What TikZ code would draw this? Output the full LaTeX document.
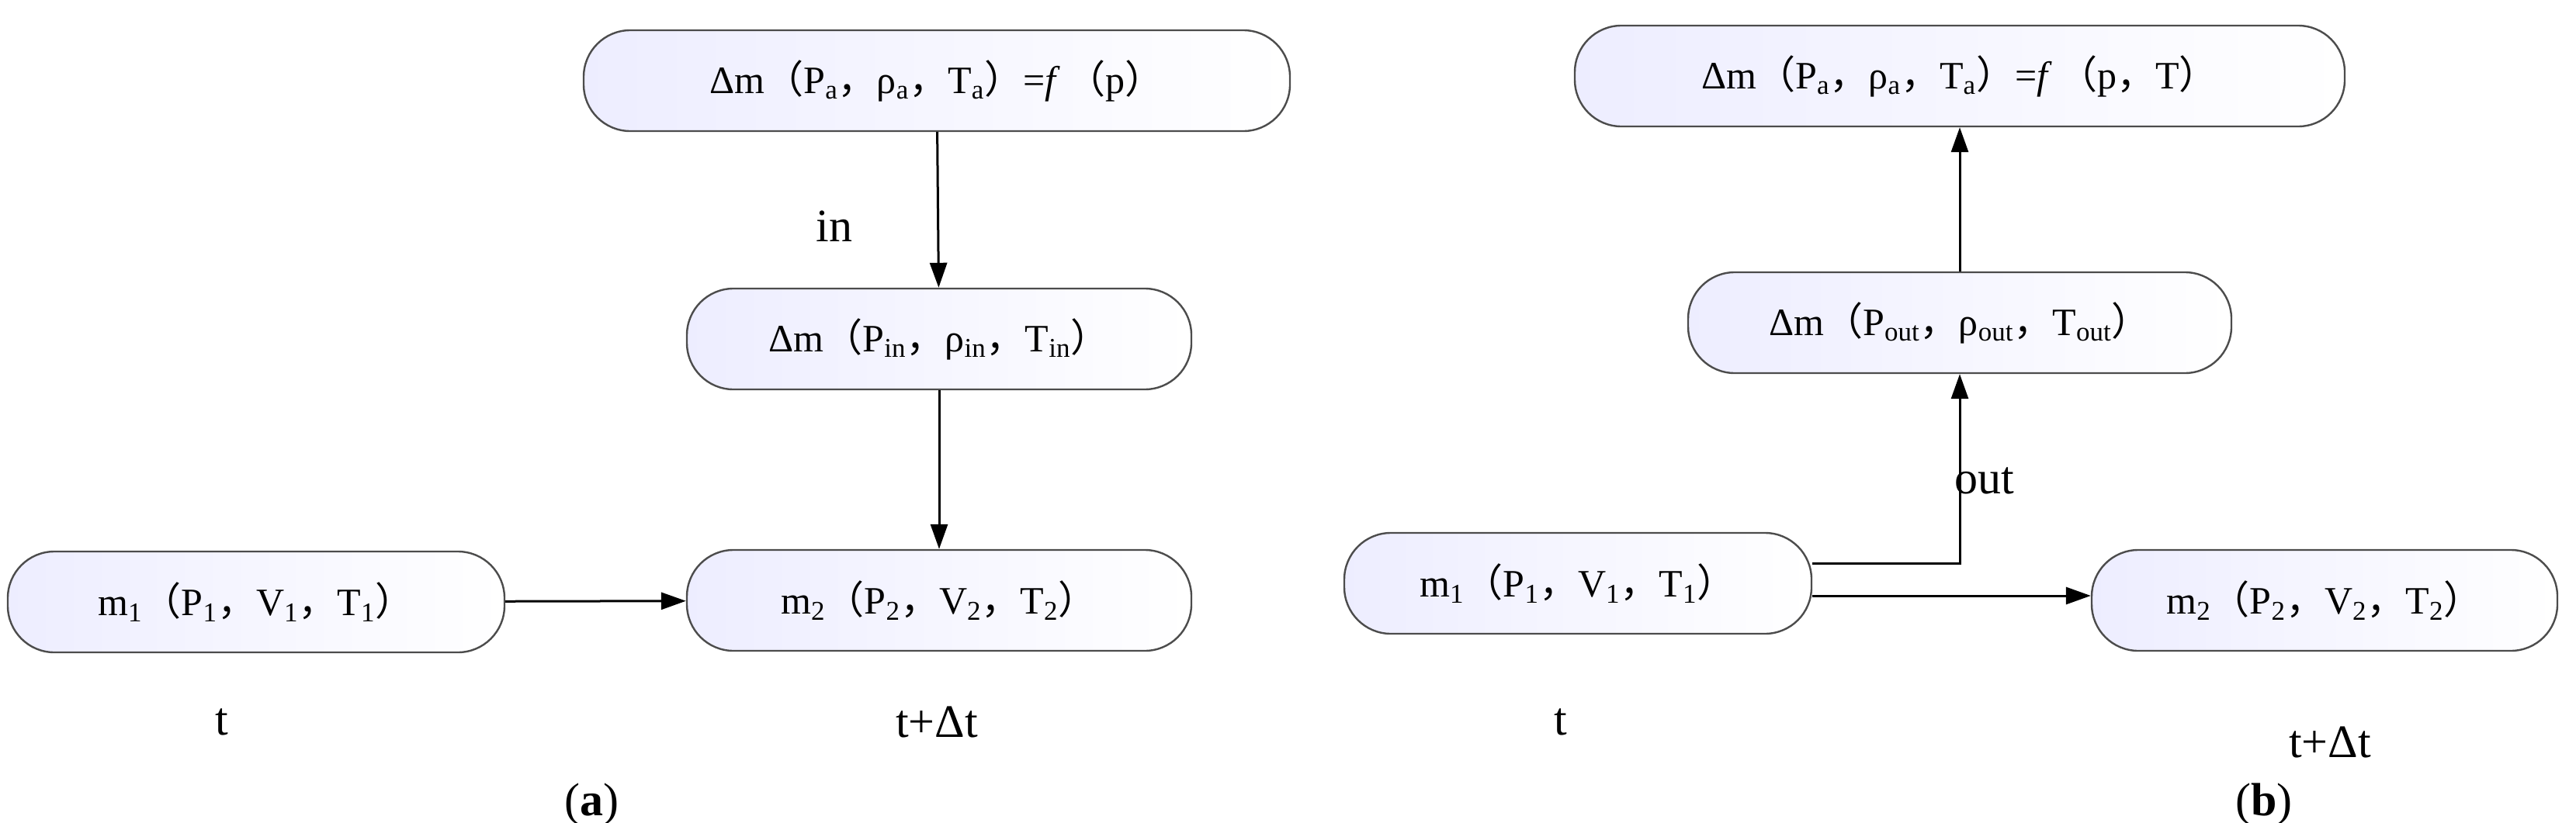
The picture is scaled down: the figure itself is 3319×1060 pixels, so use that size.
\documentclass[tikz,border=0pt]{standalone}
\usepackage{fontspec}
\setmainfont{Liberation Serif}
\newfontfamily\cjk{Noto Sans CJK SC}
\usetikzlibrary{arrows.meta}
\newcommand{\lpx}{{\cjk （}}
\newcommand{\rpx}{{\cjk ）}}
\newcommand{\cmx}{{\cjk ，}}
\newcommand{\sbx}[1]{\textsubscript{#1}}
\begin{document}
\begin{tikzpicture}[x=0.5pt,y=-0.5pt,
  box/.style={draw=black!70,line width=1.2pt,rounded corners=30pt,left color=blue!7,right color=white,
    minimum height=65pt,inner sep=0pt,font=\fontsize{25}{30}\selectfont},
  lab/.style={font=\fontsize{30}{36}\selectfont,inner sep=0pt},
  arr/.style={line width=1.5pt,-{Triangle[length=16pt,width=11pt]}}]
\useasboundingbox (0,0) rectangle (3319,1060);
% (a)
\node[box,minimum width=455pt] (a1) at (1207,104) {Δm\lpx P\sbx{a}\cmx ρ\sbx{a}\cmx T\sbx{a}\rpx=\textit{f}\,\lpx p\rpx};
\node[box,minimum width=325pt] (a2) at (1210,437) {Δm\lpx P\sbx{in}\cmx ρ\sbx{in}\cmx T\sbx{in}\rpx};
\node[box,minimum width=320pt] (a3) at (330,776) {m\sbx{1}\lpx P\sbx{1}\cmx V\sbx{1}\cmx T\sbx{1}\rpx};
\node[box,minimum width=325pt] (a4) at (1210,774) {m\sbx{2}\lpx P\sbx{2}\cmx V\sbx{2}\cmx T\sbx{2}\rpx};
\draw[arr] (a1) -- (a2);
\draw[arr] (a2) -- (a4);
\draw[arr] (a3) -- (a4);
\node[lab] (ain) at (1075,292) {in};
\node[lab] (at1) at (286,931) {t};
\node[lab] (at2) at (1207,931) {t+Δt};
\node[lab] (acap) at (762,1037) {(\textbf{a})};
% (b)
\node[box,minimum width=496pt] (b1) at (2525,98) {Δm\lpx P\sbx{a}\cmx ρ\sbx{a}\cmx T\sbx{a}\rpx=\textit{f}\,\lpx p\cmx T\rpx};
\node[box,minimum width=350pt] (b2) at (2525,416) {Δm\lpx P\sbx{out}\cmx ρ\sbx{out}\cmx T\sbx{out}\rpx};
\node[box,minimum width=301pt] (b3) at (2033,752) {m\sbx{1}\lpx P\sbx{1}\cmx V\sbx{1}\cmx T\sbx{1}\rpx};
\node[box,minimum width=300pt] (b4) at (2995,774) {m\sbx{2}\lpx P\sbx{2}\cmx V\sbx{2}\cmx T\sbx{2}\rpx};
\coordinate (bo) at ([yshift=13pt]b3.east);
\coordinate (bp) at ([yshift=-8pt]b3.east);
\draw[arr] (bo) -| (b2);
\draw[arr] (b2) -- (b1);
\draw[arr] (bp) -- (bp -| b4.west);
\node[lab] (bout) at (2557,620) {out};
\node[lab] (bt1) at (2011,931) {t};
\node[lab] (bt2) at (3002,957) {t+Δt};
\node[lab] (bcap) at (2917,1037) {(\textbf{b})};
\end{tikzpicture}
\end{document}
